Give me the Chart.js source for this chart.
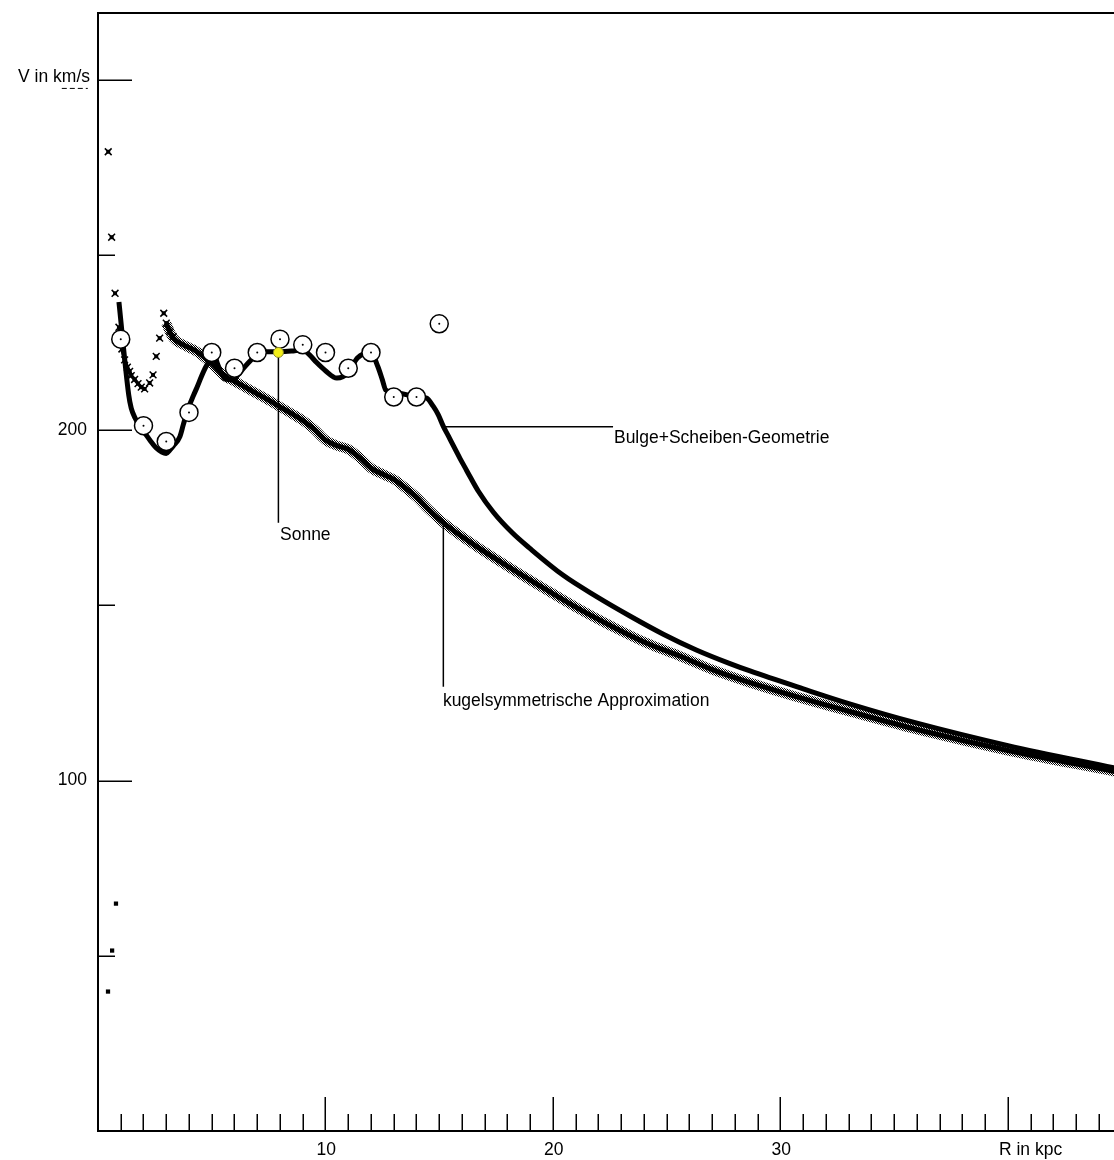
<!DOCTYPE html>
<html>
<head>
<meta charset="utf-8">
<script src="https://cdn.jsdelivr.net/npm/chart.js@4.4.0/dist/chart.umd.min.js"></script>
<style>
    html, body { margin: 0; padding: 0; background: #fff; }
    canvas { display: block; }
</style>
</head>
<body>
<canvas id="rotation_chart" width="1114" height="1160"></canvas>
<script>
// R in kpc, V in km/s

// observed rotation velocities (open circles)
const obs_r = [1, 2, 3, 4, 5, 6, 7, 8, 9, 10, 11, 12, 13, 14, 15];
const obs_v = [226.0, 201.3, 196.8, 205.1, 222.2, 217.7, 222.2, 226.0, 224.4, 222.2, 217.7, 222.2, 209.5, 209.5, 230.4];

// the sun
const sun_r = [7.93];
const sun_v = [222.2];

// kugelsymmetrische Approximation - single markers near the centre
const kugel_inner_r = [0.45, 0.60, 0.75, 0.92, 1.05, 1.17, 1.29, 1.39, 1.46, 1.61, 1.76, 1.90, 2.05, 2.27, 2.42, 2.56, 2.71, 2.89, 3.00, 3.15, 3.30];
const kugel_inner_v = [279.5, 255.1, 239.1, 229.4, 223.2, 220.1, 218.0, 216.8, 215.6, 214.5, 213.3, 212.3, 211.8, 213.5, 215.8, 221.1, 226.3, 233.4, 230.6, 228.2, 226.8];

// kugelsymmetrische Approximation - main curve
const kugel_r = [3.0, 3.15, 3.3, 3.75, 4.2, 4.55, 5.0, 5.6, 6.0, 6.5, 7.0, 7.5, 8.0, 8.5, 9.0, 9.5, 10.0, 10.5, 11.0, 11.5, 12.0, 12.5, 13.0, 13.5, 14.0, 14.5, 15.2, 16.6, 18.3, 19.7, 21.2, 22.6, 24.1, 25.6, 27.0, 28.7, 31.0, 33.0, 36.0, 40.0, 44.7];
const kugel_v = [230.6, 228.2, 226.4, 224.4, 223.0, 221.5, 219.0, 215.3, 214.0, 212.2, 210.4, 208.6, 206.7, 204.8, 202.8, 200.3, 197.2, 195.6, 194.6, 192.2, 189.2, 187.5, 186.0, 183.6, 180.9, 177.6, 173.5, 167.0, 160.0, 154.5, 148.8, 144.0, 139.3, 135.5, 131.7, 127.9, 123.4, 119.8, 114.6, 108.6, 102.6];

// Bulge+Scheiben-Geometrie - lowest points near the centre
const bulge_low_r = [0.44, 0.62, 0.79];
const bulge_low_v = [39.8, 51.5, 64.9];

// Bulge+Scheiben-Geometrie - main curve
const bulge_r = [0.92, 1.35, 1.46, 1.63, 1.85, 2.05, 2.3, 2.55, 2.8, 3.0, 3.15, 3.31, 3.6, 3.75, 3.95, 4.2, 4.35, 4.55, 4.7, 4.85, 5.04, 5.3, 5.6, 5.9, 6.2, 6.6, 7.0, 7.4, 8.0, 8.5, 9.0, 9.3, 9.6, 10.0, 10.5, 11.0, 11.4, 12.0, 12.3, 12.5, 12.65, 13.2, 14.0, 14.44, 14.74, 14.96, 15.18, 15.4, 15.62, 15.91, 16.13, 16.35, 16.72, 17.38, 18.2, 19.0, 20.45, 21.9, 23.38, 24.85, 26.3, 27.78, 28.66, 31.0, 33.0, 36.0, 40.0, 44.7];
const bulge_v = [236.6, 210.1, 206.3, 203.5, 201.0, 199.3, 197.0, 195.0, 193.8, 193.4, 194.3, 195.5, 198.2, 201.6, 206.0, 210.0, 212.2, 215.4, 217.6, 219.4, 222.2, 218.2, 214.6, 214.4, 216.2, 219.2, 221.6, 222.4, 222.4, 222.6, 223.0, 221.5, 219.4, 217.0, 214.9, 216.4, 220.6, 222.2, 218.2, 214.4, 211.5, 210.6, 209.6, 209.2, 206.8, 204.4, 201.1, 198.4, 195.6, 192.0, 189.4, 186.8, 182.6, 176.6, 170.8, 166.2, 158.6, 152.6, 147.0, 141.8, 137.3, 133.4, 131.3, 126.2, 122.0, 116.4, 110.0, 103.6];

// axis ticks and labels
const x_major = [10, 20, 30, 40];
const x_labels = ['10', '20', '30', 'R in kpc'];
const y_major = [100, 200, 300];
const y_labels = ['100', '200', 'V in km/s'];
const y_minor = [50, 150, 250];

const FONT = '17.5px "Liberation Sans", Arial, sans-serif';

function toPoints(xs, ys) {
    return xs.map((x, i) => ({x: x, y: ys[i]}));
}

// checker pattern for the fuzzy edge of the spherical approximation
function checkerPattern() {
    let c = document.createElement('canvas');
    c.width = 2;
    c.height = 2;
    let g = c.getContext('2d');
    g.fillStyle = '#000';
    g.fillRect(0, 0, 1, 1);
    g.fillRect(1, 1, 1, 1);
    return document.createElement('canvas').getContext('2d').createPattern(c, 'repeat');
}

// leader lines and labels, placed in data units
const notes = [
    {text: 'Sonne', from: [7.93, 222.2], to: [7.93, 173.6], at: [8.0, 168.6]},
    {text: 'kugelsymmetrische Approximation', from: [15.18, 173.6], to: [15.18, 126.8], at: [15.16, 121.4]},
    {text: 'Bulge+Scheiben-Geometrie', from: [15.25, 201.0], to: [22.64, 201.0], at: [22.68, 196.3]}
];

// frame, ticks, tick labels and the annotation lines
const oldAxes = {
    id: 'oldAxes',
    beforeDatasetsDraw(chart) {
        const ctx = chart.ctx;
        const xs = chart.scales.x;
        const ys = chart.scales.y;
        const a = chart.chartArea;
        ctx.save();
        ctx.strokeStyle = '#000';
        ctx.fillStyle = '#000';

        ctx.lineWidth = 2;
        ctx.beginPath();
        ctx.moveTo(a.right + 2, a.top);
        ctx.lineTo(a.left, a.top);
        ctx.lineTo(a.left, a.bottom);
        ctx.lineTo(a.right + 2, a.bottom);
        ctx.stroke();

        ctx.lineWidth = 1.5;
        ctx.beginPath();
        for (let r = 1; r <= 44; r++) {
            let px = Math.round(xs.getPixelForValue(r)) + 0.25;
            let len = (r % 10 === 0) ? 34 : 17;
            ctx.moveTo(px, a.bottom);
            ctx.lineTo(px, a.bottom - len);
        }
        y_major.forEach(v => {
            let py = Math.round(ys.getPixelForValue(v)) + 0.25;
            ctx.moveTo(a.left, py);
            ctx.lineTo(a.left + 34, py);
        });
        y_minor.forEach(v => {
            let py = Math.round(ys.getPixelForValue(v)) + 0.25;
            ctx.moveTo(a.left, py);
            ctx.lineTo(a.left + 17, py);
        });
        ctx.stroke();

        ctx.font = FONT;
        ctx.textAlign = 'left';
        ctx.textBaseline = 'middle';
        x_major.forEach((r, i) => {
            ctx.fillText(x_labels[i], xs.getPixelForValue(r) - 9, a.bottom + 19);
        });
        ctx.textAlign = 'right';
        y_major.forEach((v, i) => {
            let py = ys.getPixelForValue(v);
            if (i === y_major.length - 1) {
                ctx.textBaseline = 'alphabetic';
                ctx.fillText(y_labels[i], a.left - 8, py + 2);
                // dashed stroke under "m/s"
                let full = ctx.measureText(y_labels[i]).width;
                let head = ctx.measureText('V in k').width;
                let x0 = a.left - 8 - full + head;
                ctx.save();
                ctx.lineWidth = 1;
                ctx.setLineDash([5, 3]);
                ctx.beginPath();
                ctx.moveTo(x0, py + 8.5);
                ctx.lineTo(x0 + 26, py + 8.5);
                ctx.stroke();
                ctx.restore();
            } else {
                ctx.textBaseline = 'middle';
                ctx.fillText(y_labels[i], a.left - 11, py);
            }
        });

        // annotations
        ctx.lineWidth = 1.5;
        ctx.textAlign = 'left';
        ctx.textBaseline = 'alphabetic';
        notes.forEach(n => {
            ctx.beginPath();
            ctx.moveTo(xs.getPixelForValue(n.from[0]), ys.getPixelForValue(n.from[1]));
            ctx.lineTo(xs.getPixelForValue(n.to[0]), ys.getPixelForValue(n.to[1]));
            ctx.stroke();
            ctx.fillText(n.text, xs.getPixelForValue(n.at[0]), ys.getPixelForValue(n.at[1]));
        });
        ctx.restore();
    }
};

const checker = checkerPattern();

// the inner crosses form a solid band only between about 0.9 and 2.05 kpc
function innerSegment(c) {
    let x0 = c.p0.parsed.x;
    return (x0 >= 0.9 && x0 < 2.0) ? '#000' : 'rgba(0,0,0,0)';
}

var ctx = document.getElementById('rotation_chart');
window.rotation_chart = new Chart(ctx, {
    type: 'scatter',
    data: {
        datasets: [
            {
                label: 'Sonne',
                data: toPoints(sun_r, sun_v),
                pointStyle: 'circle',
                pointRadius: 5,
                backgroundColor: '#f2ee1a',
                borderColor: '#8a8a30',
                borderWidth: 1,
                order: 0
            },
            {
                label: 'Messpunkte (Mitte)',
                data: toPoints(obs_r, obs_v),
                pointStyle: 'circle',
                pointRadius: 1,
                backgroundColor: '#000',
                borderWidth: 0,
                order: 1
            },
            {
                label: 'Messpunkte',
                data: toPoints(obs_r, obs_v),
                pointStyle: 'circle',
                pointRadius: 9,
                backgroundColor: '#fff',
                borderColor: '#000',
                borderWidth: 1.5,
                order: 2
            },
            {
                label: 'Bulge+Scheiben-Geometrie',
                data: toPoints(bulge_r, bulge_v),
                showLine: true,
                pointRadius: 0,
                borderColor: '#000',
                borderWidth: 5,
                borderJoinStyle: 'round',
                cubicInterpolationMode: 'monotone',
                order: 3
            },
            {
                label: 'Bulge+Scheiben-Geometrie (innen)',
                data: toPoints(bulge_low_r, bulge_low_v),
                pointStyle: 'rect',
                pointRadius: 3,
                backgroundColor: '#000',
                borderWidth: 0,
                order: 3
            },
            {
                label: 'kugelsymmetrische Approximation (innen, Kern)',
                data: toPoints(kugel_inner_r, kugel_inner_v),
                pointStyle: 'rect',
                pointRadius: 2.8,
                backgroundColor: '#000',
                showLine: true,
                borderWidth: 3.5,
                borderColor: 'rgba(0,0,0,0)',
                segment: {borderColor: innerSegment},
                order: 4
            },
            {
                label: 'kugelsymmetrische Approximation (innen)',
                data: toPoints(kugel_inner_r, kugel_inner_v),
                pointStyle: 'crossRot',
                pointRadius: 4.8,
                borderColor: '#000',
                borderWidth: 1.5,
                order: 4
            },
            {
                label: 'kugelsymmetrische Approximation',
                data: toPoints(kugel_r, kugel_v),
                showLine: true,
                pointRadius: 0,
                borderColor: '#000',
                borderWidth: 5,
                borderJoinStyle: 'round',
                cubicInterpolationMode: 'monotone',
                order: 5
            },
            {
                label: 'kugelsymmetrische Approximation (Rand)',
                data: toPoints(kugel_r, kugel_v),
                showLine: true,
                pointRadius: 0,
                borderColor: checker,
                borderWidth: 10,
                cubicInterpolationMode: 'monotone',
                order: 6
            }
        ]
    },
    options: {
        responsive: false,
        animation: false,
        layout: {
            autoPadding: false,
            padding: {left: 98, top: 13, right: 0, bottom: 29}
        },
        plugins: {
            legend: {display: false},
            tooltip: {enabled: false}
        },
        scales: {
            x: {type: 'linear', min: 0, max: 44.66, display: false},
            y: {type: 'linear', min: 0, max: 319.1, display: false}
        }
    },
    plugins: [oldAxes]
});
</script>
</body>
</html>
